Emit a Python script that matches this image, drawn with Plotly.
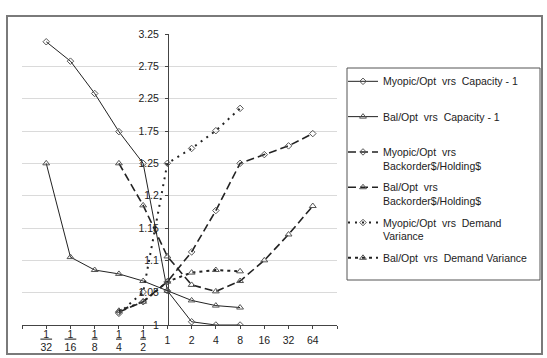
import plotly.graph_objects as go

# ---------------- data ----------------
categories = ["1/32", "1/16", "1/8", "1/4", "1/2", "1", "2", "4", "8", "16", "32", "64"]

myopic_capacity = [3.13, 2.83, 2.33, 1.74, 1.25, 1.053, 1.005, 1.0, 1.0, None, None, None]
bal_capacity = [1.25, 1.105, 1.085, 1.079, 1.068, 1.053, 1.038, 1.030, 1.027, None, None, None]
myopic_backorder = [None, None, None, 1.020, 1.036, 1.067, 1.113, 1.177, 1.25, 1.385, 1.52, 1.71]
bal_backorder = [None, None, None, 1.25, 1.185, 1.106, 1.062, 1.052, 1.068, 1.100, 1.140, 1.184]
myopic_demand_var = [None, None, None, 1.018, 1.051, 1.25, 1.48, 1.755, 2.10, None, None, None]
bal_demand_var = [None, None, None, 1.022, 1.036, 1.067, 1.081, 1.085, 1.083, None, None, None]

y_tick_values = [1, 1.05, 1.1, 1.15, 1.2, 1.25, 1.75, 2.25, 2.75, 3.25]
y_tick_labels = ["1", "1.05", "1.1", "1.15", "1.2", "1.25", "1.75", "2.25", "2.75", "3.25"]

series_names = [
    "Myopic/Opt  vrs  Capacity - 1<br>\u00a0",
    "Bal/Opt  vrs  Capacity - 1<br>\u00a0",
    "Myopic/Opt  vrs<br>Backorder$/Holding$",
    "Bal/Opt  vrs<br>Backorder$/Holding$",
    "Myopic/Opt  vrs  Demand<br>Variance",
    "Bal/Opt  vrs  Demand Variance<br>\u00a0",
]
series_values = [myopic_capacity, bal_capacity, myopic_backorder,
                 bal_backorder, myopic_demand_var, bal_demand_var]


# The value axis is broken: 0.05 per grid step up to 1.25, then 0.5 per step.
def warp(v):
    if v is None:
        return None
    return v if v <= 1.25 else 1.25 + (v - 1.25) / 10.0


def frac_label(c):
    if "/" not in c:
        return c
    num, den = c.split("/")
    pad = "\u00a0" if len(den) > 1 else ""
    return "<u>" + pad + num + pad + "</u><br>" + den


styles = [
    dict(dash="solid", width=1, symbol="diamond-open", size=5),
    dict(dash="solid", width=1, symbol="triangle-up-open", size=6),
    dict(dash="8px,4px", width=1.6, symbol="diamond-open", size=5),
    dict(dash="8px,4px", width=1.6, symbol="triangle-up-open", size=6),
    dict(dash="2px,5px", width=2, symbol="diamond-open", size=5),
    dict(dash="3px,4px", width=2, symbol="triangle-up-open", size=6),
]
# last series is drawn on the overlaid axis that carries the integer labels
axes_for = ["x", "x", "x", "x", "x", "x2"]

xs = list(range(len(categories)))

fig = go.Figure()
for i, (name, vals, st) in enumerate(zip(series_names, series_values, styles)):
    fig.add_trace(go.Scatter(
        x=xs, y=[warp(v) for v in vals], name=name, mode="lines+markers",
        legendgroup="g%d" % i, xaxis=axes_for[i], yaxis="y",
        line=dict(color="#222222", width=st["width"], dash=st["dash"]),
        marker=dict(symbol=st["symbol"], size=st["size"], color="#555555",
                    line=dict(width=1, color="#555555")),
    ))

font_family = "Liberation Sans, Arial, sans-serif"
FS = 10.5

# main x axis: fraction labels + tick marks
main_ticks = list(range(-1, len(categories) + 1))
main_text = []
for t in main_ticks:
    if 0 <= t < len(categories) and "/" in categories[t]:
        main_text.append(frac_label(categories[t]))
    else:
        main_text.append("")

int_ticks = [i for i, c in enumerate(categories) if "/" not in c]
int_text = [categories[i] for i in int_ticks]

L, R, T, B = 22, 210, 34, 33
W, H = 547, 358
pw, ph = W - L - R, H - T - B


def px_to_paper_x(px):
    return (px - L) / pw


def px_to_paper_y(py):
    return (H - B - py) / ph


tickfont = dict(family=font_family, size=FS, color="#222222")

fig.update_layout(
    width=W, height=H, autosize=False,
    margin=dict(l=L, r=R, t=T, b=B, pad=0, autoexpand=False),
    paper_bgcolor="white", plot_bgcolor="white",
    font=dict(family=font_family, size=FS, color="#222222"),
    showlegend=True,
    legend=dict(
        x=px_to_paper_x(343), y=px_to_paper_y(68), xanchor="left", yanchor="top",
        borderwidth=0, bgcolor="rgba(0,0,0,0)",
        font=dict(family=font_family, size=FS, color="#222222"),
        valign="top", traceorder="grouped", tracegroupgap=5,
    ),
    xaxis=dict(
        range=[-1, len(categories)], tickmode="array", tickvals=main_ticks,
        ticktext=main_text, ticks="outside", ticklen=3, tickcolor="#444444",
        showline=True, linecolor="#444444", linewidth=1,
        showgrid=False, zeroline=False, ticklabelstandoff=-4,
        automargin=False, tickfont=tickfont,
    ),
    xaxis2=dict(
        overlaying="x", anchor="y", side="bottom",
        range=[-1, len(categories)], tickmode="array", tickvals=int_ticks,
        ticktext=int_text, ticks="", showline=False, showgrid=False,
        zeroline=False, ticklabelstandoff=7,
        automargin=False, tickfont=tickfont,
    ),
    yaxis=dict(
        range=[1, 1.45], anchor="free", position=px_to_paper_x(168),
        tickmode="array", tickvals=[warp(v) for v in y_tick_values],
        ticktext=y_tick_labels, ticks="outside", ticklen=3, tickcolor="#444444",
        showline=True, linecolor="#444444", linewidth=1,
        showgrid=True, gridcolor="#dadada", gridwidth=1, zeroline=False,
        ticklabelstandoff=4, automargin=False,
        tickfont=tickfont,
    ),
    shapes=[
        dict(type="rect", xref="paper", yref="paper",
             x0=px_to_paper_x(7), x1=px_to_paper_x(542),
             y0=px_to_paper_y(354), y1=px_to_paper_y(16),
             line=dict(color="#7a7a7a", width=2), fillcolor="rgba(0,0,0,0)", layer="below"),
        dict(type="rect", xref="paper", yref="paper",
             x0=px_to_paper_x(347), x1=px_to_paper_x(540),
             y0=px_to_paper_y(280), y1=px_to_paper_y(68),
             line=dict(color="#555555", width=1), fillcolor="white", layer="above"),
    ],
)

fig.write_html("out.html")
